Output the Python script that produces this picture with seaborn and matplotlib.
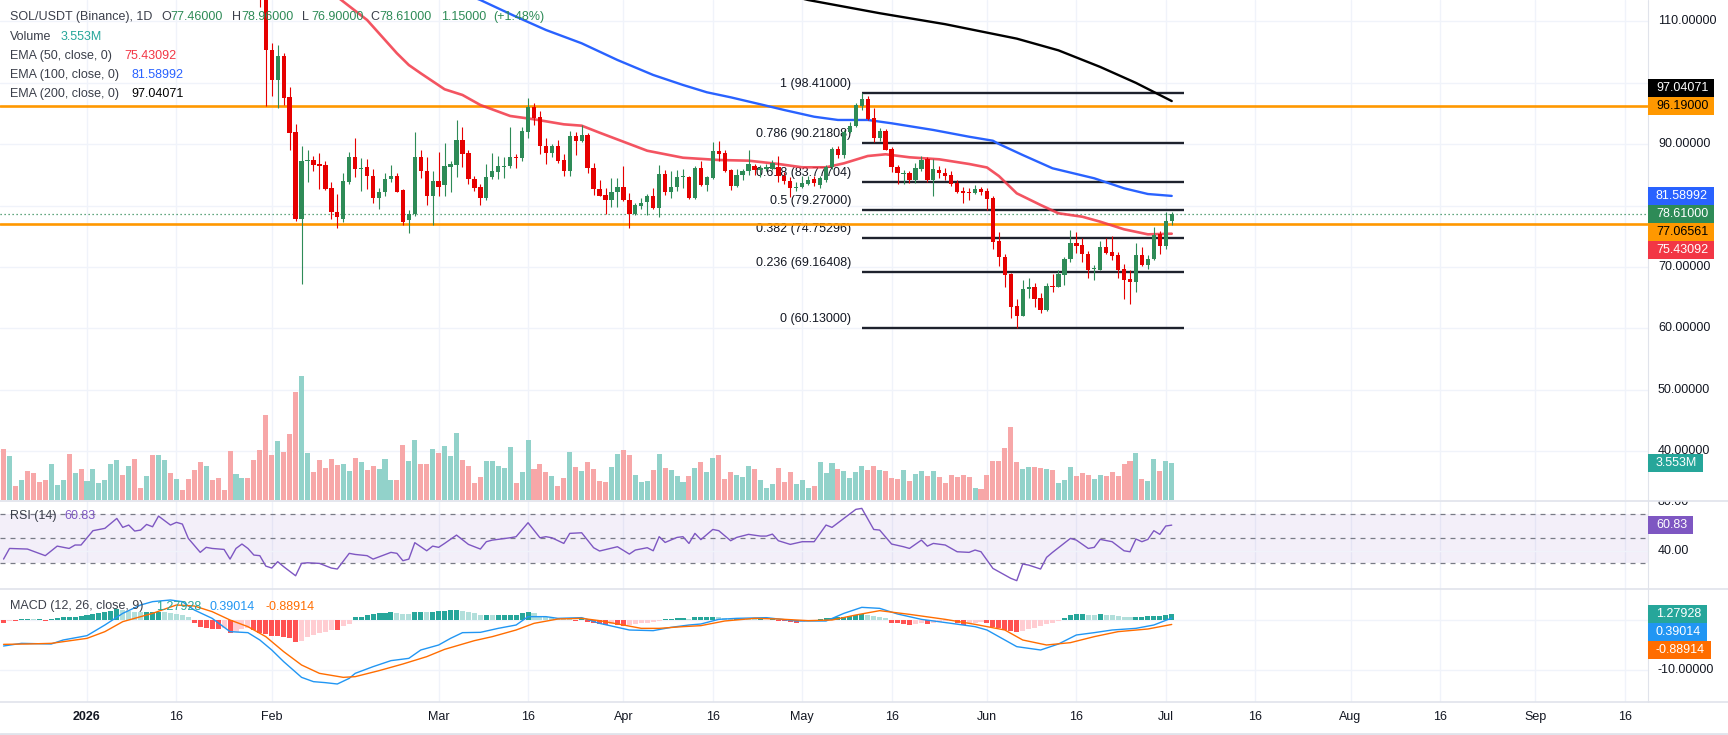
import numpy as np
import pandas as pd
import matplotlib
matplotlib.use("Agg")
import matplotlib.pyplot as plt
import matplotlib.transforms as mtransforms
from matplotlib.patches import Rectangle
from matplotlib.lines import Line2D
import seaborn as sns

# ======================= DATA =======================
BASE_DATE = "2026-01-01"

# daily candles SOL/USDT, first candle 2026-01-30
candle_first_date = "2026-01-30"
c_open = [118.5, 117.0, 105.4, 100.5, 104.4, 97.7, 92.0, 77.9, 87.2, 87.4, 86.8, 86.6, 82.8,
          79.0, 77.9, 83.9, 88.0, 85.9, 86.3, 84.9, 81.2, 82.2, 84.3, 84.9, 82.6, 77.6, 78.6,
          87.9, 85.7, 81.5, 84.1, 83.3, 86.3, 86.6, 90.7, 88.5, 84.4, 83.0, 81.2, 84.6, 85.5, 86.3,
          86.4, 87.9, 87.7, 92.0, 96.1, 94.4, 89.8, 88.6, 89.7, 87.4, 85.7, 91.3, 90.5, 91.5,
          86.2, 82.7, 81.75, 81.0, 82.2,
          83.0, 81.0, 78.6, 80.0, 80.55, 81.6, 79.7, 85.2, 82.2, 83.0, 84.6, 84.75, 81.2, 86.2,
          83.4, 84.5, 88.85, 88.5, 85.85, 83.2, 85.0, 85.7,
          86.5, 85.8, 86.0, 85.97, 86.35, 84.83, 84.02, 82.95, 83.0, 83.53, 84.29, 83.37, 84.18,
          86.24, 89.23, 88.25, 91.95, 92.98, 96.29, 97.38, 94.23, 91.08, 92.16, 89.23, 86.35, 85.2,
          85.38, 84.18, 85.97, 87.55, 84.18, 85.81, 85.27, 85.0, 83.75, 82.39, 82.15, 82.12, 82.72, 82.39,
          81.3, 74.3, 71.7, 68.87, 63.66, 62.08, 66.37, 66.75, 64.96, 63.06, 66.92, 66.81, 68.71,
          71.26, 73.92, 73.6, 72.13, 69.74, 69.58, 73.27, 72.45, 71.97, 69.69, 68.05, 67.57, 71.97,
          70.34, 71.31, 75.33, 73.43, 77.46]
c_high = [119.5, 117.6, 106.5, 106.1, 104.9, 99.4, 93.3, 89.7, 89.0, 88.1, 88.6, 87.2, 83.9,
          81.9, 85.4, 88.7, 91.0, 87.8, 87.6, 85.9, 82.9, 85.3, 86.6, 85.3, 82.7, 79.3, 92.0,
          89.0, 88.0, 85.6, 88.7, 90.2, 87.3, 93.9, 92.8, 89.0, 84.8, 83.6, 86.8, 88.5, 88.1, 87.9,
          92.8, 88.4, 92.8, 97.6, 96.7, 95.4, 91.0, 90.0, 90.7, 88.4, 92.1, 92.0, 93.2, 91.9,
          86.9, 84.2, 82.85, 84.5, 84.5,
          86.4, 82.0, 80.4, 81.2, 81.9, 82.95, 86.7, 85.85, 85.6, 85.85, 86.0, 84.9, 86.5, 87.3,
          84.9, 90.3, 90.5, 89.0, 86.0, 86.0, 86.0, 89.1,
          86.8, 86.6, 86.8, 87.4, 88.1, 85.5, 84.6, 83.9, 84.8, 84.8, 84.9, 84.9, 86.6,
          89.6, 89.7, 92.4, 93.7, 96.8, 98.41, 97.9, 95.9, 92.6, 92.5, 89.5, 86.7, 85.8,
          85.7, 86.9, 88.1, 88.0, 87.6, 86.4, 86.2, 85.6, 84.2, 83.0, 82.8, 83.3, 83.1, 82.9,
          81.5, 75.7, 72.13, 69.09, 64.74, 67.89, 68.27, 67.35, 65.72, 67.35, 68.82, 69.52, 71.7,
          76.04, 75.71, 74.73, 72.67, 70.34, 74.3, 74.73, 75.06, 72.5, 70.45, 69.52, 73.87, 73.22,
          71.97, 76.47, 75.88, 78.97, 78.96]
c_low = [112.3, 96.3, 97.9, 95.9, 96.4, 89.1, 77.5, 67.3, 83.9, 85.6, 82.7, 82.5, 77.8,
         76.3, 77.3, 83.5, 84.6, 82.4, 82.7, 80.4, 79.5, 81.6, 83.8, 82.2, 76.9, 75.5, 78.3,
         84.5, 80.1, 76.9, 81.5, 81.6, 82.3, 84.6, 86.3, 83.5, 82.4, 80.1, 81.0, 84.4, 84.3, 84.5,
         86.2, 86.2, 87.2, 91.0, 93.1, 88.4, 86.8, 87.9, 86.9, 84.9, 84.9, 88.2, 90.3, 85.3,
         81.75, 81.5, 78.7, 79.8, 79.8,
         80.8, 76.4, 78.4, 79.4, 78.4, 79.5, 78.1, 81.75, 81.2, 82.4, 82.95, 81.1, 81.1, 83.2,
         82.4, 84.3, 87.2, 85.5, 82.6, 83.1, 84.2, 85.0,
         85.0, 84.75, 85.6, 85.8, 83.9, 83.6, 81.47, 82.4, 82.8, 83.3, 83.2, 82.8, 83.9,
         85.9, 87.7, 87.7, 91.8, 92.8, 95.6, 93.9, 90.4, 90.6, 89.0, 85.5, 83.6, 83.6,
         83.7, 83.7, 85.7, 83.8, 81.5, 84.5, 84.2, 83.2, 82.0, 80.4, 81.0, 81.9, 81.7, 79.3,
         72.9, 70.1, 66.81, 61.65, 60.13, 62.0, 64.91, 63.55, 62.47, 62.9, 66.0, 66.7, 67.0,
         70.77, 72.3, 70.88, 68.27, 67.89, 69.5, 72.07, 71.15, 68.27, 64.85, 63.98, 66.0, 70.2,
         69.69, 71.2, 72.07, 72.89, 76.90]
c_close = [117.0, 105.4, 100.5, 104.4, 97.6, 91.85, 77.9, 87.2, 87.4, 86.6, 86.4, 82.7, 78.9,
           78.1, 84.0, 87.9, 85.9, 86.2, 84.8, 81.2, 82.3, 84.4, 84.9, 82.3, 77.4, 78.7, 87.9,
           85.6, 81.5, 84.1, 83.1, 86.5, 86.8, 90.7, 88.4, 84.3, 82.8, 81.2, 84.75, 85.6, 86.4, 86.5,
           88.0, 87.8, 92.1, 96.1, 94.2, 89.7, 88.6, 89.7, 87.2, 85.7, 91.3, 90.5, 91.5, 86.1,
           82.7, 81.6, 81.0, 82.3, 83.0,
           80.9, 78.6, 80.1, 80.5, 81.6, 79.7, 85.2, 82.2, 83.1, 84.6, 84.75, 81.2, 86.2, 83.3,
           84.6, 88.85, 88.4, 85.7, 83.2, 85.0, 85.7, 86.8,
           85.85, 86.1, 86.3, 87.0, 84.83, 84.02, 82.82, 83.1, 83.64, 84.18, 83.75, 84.45, 86.24,
           89.23, 88.25, 92.05, 93.03, 96.40, 97.38, 94.06, 90.97, 92.16, 89.07, 86.35, 85.27, 85.3,
           84.18, 86.08, 87.44, 84.18, 85.97, 85.27, 84.83, 83.53, 82.28, 82.01, 82.1, 82.72, 82.28, 81.09,
           74.1, 71.6, 68.76, 63.55, 62.08, 66.43, 66.75, 64.85, 63.06, 66.92, 66.81, 68.87, 71.31,
           73.92, 73.49, 72.07, 69.52, 69.8, 73.27, 72.35, 71.8, 69.58, 67.89, 67.57, 71.97, 70.34,
           71.31, 75.22, 73.43, 77.46, 78.61]

# volume (millions) and bar direction, first bar 2025-12-18
bar_first_date = "2025-12-18"
volume_m = [4.90, 4.22, 1.34, 1.92, 2.78, 2.59, 1.73, 1.92, 3.46, 1.44,
            1.92, 4.42, 2.59, 2.98, 1.82, 2.98, 1.63, 1.92, 3.46, 3.84,
            2.40, 3.26, 3.94, 1.15, 2.30, 4.32, 4.32, 3.84, 2.59, 2.02,
            0.96, 2.02, 2.88, 3.65, 3.26, 1.92, 2.11, 0.96, 4.70, 2.50,
            2.11, 2.11, 3.84, 4.80, 8.16, 4.32, 5.66, 4.61, 6.34, 10.37,
            11.90, 4.51, 2.69, 3.84, 3.07, 3.94, 3.36, 3.46, 2.78, 4.03,
            3.65, 2.88, 3.26, 2.98, 3.94, 1.92, 1.92, 5.28, 3.74, 5.76,
            3.46, 3.46, 4.90, 4.51, 5.18, 4.22, 6.43, 3.84, 3.26, 1.63,
            2.21, 3.74, 3.74, 3.26, 3.07, 5.09, 1.63, 2.69, 5.76, 2.98,
            3.46, 2.69, 2.30, 1.34, 2.11, 4.61, 3.17, 2.78, 3.65, 2.98,
            1.82, 1.73, 3.17, 4.42, 4.80, 4.32, 2.40, 1.73, 1.82, 2.88,
            4.42, 3.07, 2.88, 2.30, 1.73, 2.30, 3.07, 3.65, 2.69, 4.03,
            4.32, 2.02, 2.69, 2.40, 2.21, 3.26, 2.98, 1.92, 1.15, 1.54,
            3.07, 1.73, 2.69, 1.54, 1.92, 1.15, 1.34, 3.65, 2.59, 3.55,
            2.98, 2.78, 2.11, 2.69, 3.26, 2.88, 3.26, 2.88, 2.78, 2.11,
            2.02, 2.88, 1.82, 2.50, 2.78, 2.30, 2.78, 2.21, 1.63, 2.40,
            2.21, 2.40, 2.21, 1.15, 1.06, 2.40, 3.74, 3.74, 4.99, 7.01,
            3.65, 2.98, 3.17, 3.17, 3.07, 2.98, 2.88, 1.63, 1.92, 3.17,
            2.30, 2.59, 2.40, 2.02, 2.40, 2.30, 2.69, 2.30, 3.46, 3.74,
            4.51, 2.02, 1.82, 3.94, 2.78, 3.74, 3.553]
volume_up = [0, 1, 0, 1, 0, 0, 0, 0, 1, 1, 1, 0, 1, 0, 1, 1, 1, 1, 1, 1,
             0, 1, 0, 0, 1, 0, 1, 1, 0, 1, 0, 0, 0, 0, 1, 0, 0, 0, 0, 1,
             1, 0, 0, 0, 0, 0, 1, 0, 0, 0, 1, 1, 0, 0, 0, 0, 0, 1, 1, 0,
             1, 0, 0, 1, 1, 1, 0, 0, 1, 1, 0, 0, 1, 0, 1, 1, 1, 0, 0, 0,
             0, 1, 1, 1, 1, 1, 0, 1, 1, 0, 0, 0, 1, 0, 0, 1, 0, 1, 0, 0,
             0, 0, 1, 1, 0, 0, 1, 1, 1, 0, 1, 0, 1, 1, 1, 0, 1, 0, 1, 1,
             0, 0, 0, 1, 1, 1, 0, 1, 1, 1, 0, 0, 0, 1, 1, 1, 0, 1, 1, 1,
             0, 1, 1, 1, 1, 0, 0, 1, 0, 0, 0, 1, 0, 1, 1, 0, 1, 0, 0, 0,
             0, 0, 0, 1, 0, 0, 0, 0, 0, 0, 0, 1, 1, 0, 0, 1, 0, 1, 1, 1,
             0, 0, 0, 1, 1, 0, 0, 0, 0, 0, 1, 0, 1, 1, 0, 1, 1]

# moving averages (day offset from 2026-01-01, value)
ema50_day = [40, 47, 52, 54, 56, 60, 63, 66, 71, 75, 80, 83, 86, 90, 94, 100, 106, 111, 116, 120,
             124, 127, 131, 134, 138, 143, 148, 151, 153, 156, 160, 163, 167, 170, 174, 178, 182]
ema50_val = [115.5, 110.24, 104.82, 102.91, 101.56, 98.96, 98.03, 96.40, 94.61, 94.07, 93.25, 93.03,
             91.89, 90.42, 88.95, 87.81, 87.44, 87.33, 86.79, 86.25, 86.25, 86.90, 88.09, 88.37, 87.88,
             87.55, 86.79, 86.22, 84.83, 82.01, 80.11, 78.76, 78.20, 77.39, 76.15, 75.33, 75.43092]
ema100_day = [62, 66, 72, 77, 83, 89, 95, 100, 104, 108, 113, 117, 122, 126, 131, 135, 142, 148,
              152, 153, 157, 162, 169, 174, 178, 182]
ema100_val = [115.0, 113.5, 110.78, 108.62, 106.45, 103.73, 101.29, 99.66, 98.47, 97.65, 96.51, 95.58,
              94.49, 93.96, 93.96, 93.42, 92.33, 91.23, 90.58, 90.05, 88.25, 86.09, 84.46, 82.83,
              81.90, 81.58992]
ema200_day = [118, 121, 133, 144, 156, 163, 170, 176, 182]
ema200_val = [114.2, 113.5, 111.35, 109.56, 107.21, 105.3, 102.6, 100.0, 97.04071]

# horizontal lines and Fibonacci retracement
hline_levels = [96.19, 77.06561]
fib_ratio = ["1", "0.786", "0.618", "0.5", "0.382", "0.236", "0"]
fib_price = [98.41, 90.21808, 83.77704, 79.27, 74.75296, 69.16408, 60.13]
fib_start_date = "2026-05-11"
fib_end_date = "2026-07-04"

# RSI (14)
rsi_day = [-14, -13, -10, -7, -5, -3, -2, -1, 1, 3, 5, 6, 7, 8, 9, 10, 11, 12, 14, 15,
           16, 17, 19, 20, 21, 23, 24, 25, 26, 27, 28, 29, 30, 31, 32, 33, 35, 36, 37, 39,
           41, 42, 44, 45, 47, 48, 51, 52, 53, 54, 55, 57, 58, 59, 60, 62, 64, 66, 67, 68,
           71, 72, 74, 76, 77, 78, 80, 81, 83, 85, 86, 89, 91, 92, 94, 95, 96, 97, 99, 100,
           101, 102, 103, 105, 106, 108, 109, 111, 113, 114, 115, 116, 118, 120, 122, 124, 125, 127, 129, 130,
           132, 133, 135, 137, 138, 140, 141, 142, 144, 146, 148, 149, 150, 152, 153, 155, 156, 157, 158, 160,
           161, 162, 165, 166, 168, 169, 170, 172, 174, 175, 176, 177, 178, 179, 180, 181, 182]
rsi_val = [33.1, 41.8, 41.3, 35.9, 43.7, 41.8, 44.6, 44.6, 56.3, 58.2, 66.3, 59.0, 60.9, 56.0, 56.8, 61.4, 59.5, 68.2, 60.9, 63.1,
           61.7, 50.0, 38.6, 42.7, 41.8, 41.0, 33.1, 41.8, 45.4, 41.8, 36.4, 35.9, 27.4, 25.8, 31.0, 26.9, 19.5, 29.6, 30.1, 29.6,
           25.8, 25.0, 37.8, 36.9, 35.9, 33.1, 38.6, 37.8, 31.8, 33.1, 46.5, 39.9, 43.7, 42.7, 45.9, 52.7, 45.1, 41.3, 47.3, 48.6,
           50.5, 51.4, 62.8, 50.5, 51.4, 50.5, 45.9, 54.1, 54.6, 42.4, 39.7, 43.2, 37.2, 40.5, 42.4, 39.9, 51.4, 46.7, 50.8, 51.4,
           45.9, 54.1, 49.0, 57.3, 56.3, 48.1, 50.8, 53.3, 51.9, 51.9, 53.5, 48.1, 45.1, 47.3, 47.3, 60.9, 59.0, 66.3, 73.7, 74.5,
           57.3, 56.8, 45.4, 43.2, 41.8, 48.6, 43.7, 45.9, 44.6, 39.1, 38.6, 40.5, 39.1, 25.5, 22.8, 17.4, 15.5, 29.1, 28.2, 25.0,
           34.5, 38.6, 50.0, 48.6, 41.8, 42.7, 49.2, 47.3, 39.9, 39.1, 49.5, 47.3, 49.2, 56.3, 53.3, 60.1, 60.83]

# MACD (12, 26, 9)
macd_day = [-14, -11, -6, -4, 0, 3, 6, 9, 11, 14, 16, 18, 21, 24, 27, 29, 31, 33, 36, 38,
            40, 42, 44, 45, 48, 51, 54, 56, 59, 61, 63, 66, 69, 72, 74, 77, 79, 83, 86, 89,
            91, 95, 98, 101, 103, 106, 109, 114, 119, 124, 127, 130, 133, 136, 140, 145, 149, 151, 154, 156,
            160, 163, 166, 169, 172, 176, 179, 182]
macd_val = [-5.20, -4.67, -4.80, -4.00, -3.13, -1.00, 1.33, 3.00, 3.67, 4.00, 3.67, 2.00, 0.33, -2.33, -2.53, -4.00, -6.00, -8.33, -11.47, -12.33,
            -12.53, -12.80, -11.67, -10.67, -9.33, -8.13, -7.67, -6.00, -5.00, -3.67, -2.53, -2.47, -1.67, -1.00, 0.67, 0.67, 0.33, 0.47, -0.67, -1.47,
            -2.00, -2.13, -1.47, -1.00, -0.80, 0.13, 0.33, 0.47, -0.20, -0.20, 1.33, 2.53, 2.33, 1.20, 0.13, -0.67, -1.33, -2.00, -4.00, -5.33,
            -6.00, -4.80, -3.00, -2.53, -2.00, -1.67, -1.00, 0.39014]
signal_day = [-14, -10, -6, 0, 3, 6, 11, 15, 18, 21, 24, 27, 30, 33, 36, 39, 43, 45, 49, 53,
              57, 60, 65, 68, 72, 75, 79, 83, 86, 90, 93, 96, 100, 103, 107, 112, 116, 121, 125, 129,
              133, 138, 144, 149, 154, 157, 161, 165, 169, 173, 178, 182]
signal_val = [-4.87, -4.80, -4.67, -3.67, -2.33, -0.33, 1.33, 3.00, 2.80, 1.67, 0.00, -1.33, -3.33, -6.33, -9.00, -10.67, -11.47, -11.33, -10.13, -8.80,
              -7.33, -5.87, -4.13, -3.33, -2.00, -0.67, 0.20, 0.33, -0.13, -1.00, -1.67, -1.67, -1.33, -1.13, -0.20, 0.33, 0.20, -0.13, 0.00, 1.00,
              1.87, 1.13, 0.13, -0.87, -2.00, -4.00, -5.00, -4.53, -3.33, -2.33, -1.80, -0.88914]
macd_hist = [-0.67, -0.2, -0.2, 0.13, 0.2, 0.13, 0.13, -0.13, 0.13, 0.47,
             0.6, 0.6, 0.6, 0.73, 1.0, 1.2, 1.47, 1.67, 1.87, 2.13,
             2.0, 1.87, 1.67, 1.53, 1.53, 1.67, 1.67, 1.53, 1.33, 1.2,
             1.0, 0.67, -0.67, -1.33, -1.67, -1.87, -1.87, -1.67, -2.53, -2.33,
             -1.87, -1.67, -2.0, -2.53, -2.8, -3.2, -3.2, -3.33, -3.67, -4.33,
             -4.13, -3.47, -3.0, -2.67, -2.33, -2.0, -2.0, -1.13, -0.8, 0.53,
             0.67, 1.0, 1.2, 1.33, 1.47, 1.6, 1.33, 1.2, 1.13, 1.67,
             1.67, 1.6, 1.6, 1.73, 1.87, 1.93, 2.0, 1.87, 1.67, 1.47,
             1.07, 1.07, 1.0, 1.0, 1.0, 1.0, 1.0, 1.33, 1.6, 1.33,
             0.8, 0.53, 0.4, 0.27, 0.2, 0.13, -0.13, 0.13, -0.33, -0.53,
             -0.8, -1.0, -0.87, -1.0, -1.2, -1.0, -0.8, -0.67, -0.53, -0.33,
             -0.2, 0.13, 0.27, 0.33, 0.33, 0.27, 0.53,
             0.53, 0.67, 0.67, 0.53, 0.33, 0.27, 0.33, 0.27, 0.2, 0.13,
             0.13, -0.07, 0.13, -0.13, -0.2, -0.4, -0.53, -0.4, -0.27, -0.13,
             0.13, 0.33, 0.4, 0.53, 0.67, 0.87, 1.07, 1.2, 1.0, 0.8,
             0.67, 0.4, -0.53, -0.67, -0.87, -1.0, -0.8, -0.67, -0.87, -0.53,
             -0.4, -0.27, -0.2, -0.67, -0.93, -0.67, -0.53, -0.4, -0.67, -1.33,
             -1.67, -2.0, -2.27, -2.4, -2.13, -1.87, -1.53, -1.2, -0.87, -0.53,
             -0.27, 0.47, 0.93, 1.2, 1.2, 1.07, 1.0, 1.13, 1.0, 0.93,
             0.8, 0.67, 0.6, 0.67, 0.67, 0.73, 0.8, 0.87, 1.07, 1.27928]

# axis tick labels
price_ticks = [110, 90, 70, 60, 50, 40]
rsi_ticks = [80, 40]
macd_ticks = [-10]
date_tick_dates = ["2026-01-01", "2026-01-16", "2026-02-01", "2026-03-01", "2026-03-16", "2026-04-01",
                   "2026-04-16", "2026-05-01", "2026-05-16", "2026-06-01", "2026-06-16", "2026-07-01",
                   "2026-07-16", "2026-08-01", "2026-08-16", "2026-09-01", "2026-09-16"]
date_tick_labels = ["2026", "16", "Feb", "Mar", "16", "Apr", "16", "May", "16", "Jun", "16", "Jul",
                    "16", "Aug", "16", "Sep", "16"]

# ======================= STYLE / LAYOUT =======================
sns.set_theme(style="white")
FONT = ['Liberation Sans', 'DejaVu Sans']
plt.rcParams['font.family'] = FONT
FS = 9
TXT = '#131722'
UP, DN = '#2e8b57', '#e60000'
VOL_UP, VOL_DN = '#92d2ca', '#f7a7a8'
GRID = '#f0f3fa'
SEP = '#e0e3eb'

W, H = 1728, 735
PLOT_R = 1648           # right edge of plotting area (px)
X0_PX, PX_DAY = 87, 5.96  # px of 2026-01-01, px per day

def day(s):
    return (pd.Timestamp(s) - pd.Timestamp(BASE_DATE)).days

def yfig(px):
    return 1 - px / H

fig = plt.figure(figsize=(W / 100, H / 100), dpi=100)
fig.patch.set_facecolor('white')
ax_p = fig.add_axes([0, yfig(500), 1, 500 / H])
ax_r = fig.add_axes([0, yfig(589), 1, 88 / H], sharex=ax_p)
ax_m = fig.add_axes([0, yfig(702), 1, 113 / H], sharex=ax_p)
ax_v = ax_p.twinx()
ax_v.set_zorder(0)
ax_p.set_zorder(1)
ax_p.patch.set_alpha(0)

xl = ((0 - X0_PX) / PX_DAY, (W - X0_PX) / PX_DAY)
xr_frac = PLOT_R / W

# ---------- price panel ----------
cd = day(candle_first_date) + np.arange(len(c_open))
o, hi, lo, c = map(np.asarray, (c_open, c_high, c_low, c_close))
up = c >= o
ccol = np.where(up, UP, DN)
ax_p.vlines(cd, lo, hi, colors=ccol, lw=0.8, zorder=6)
ax_p.bar(cd, np.maximum(np.abs(c - o), 0.17), bottom=np.minimum(o, c), width=0.72,
         color=ccol, linewidth=0, zorder=7)

sns.lineplot(x=ema50_day, y=ema50_val, ax=ax_p, color='#f23645', linewidth=1.9, alpha=0.85,
             estimator=None, zorder=5)
sns.lineplot(x=ema100_day, y=ema100_val, ax=ax_p, color='#2962ff', linewidth=1.7,
             estimator=None, zorder=5)
sns.lineplot(x=ema200_day, y=ema200_val, ax=ax_p, color='#000000', linewidth=1.7,
             estimator=None, zorder=5)

for lv in hline_levels:
    ax_p.axhline(lv, xmax=xr_frac, color='#ff9800', lw=1.9, zorder=4)
ax_p.axhline(c[-1], xmax=xr_frac, color=UP, lw=0.9, ls=(0, (1, 2.2)), zorder=4)

fs, fe = day(fib_start_date), day(fib_end_date)
ax_p.hlines(fib_price, fs, fe, colors='#1e222d', lw=1.7, zorder=4)
for r, pv in zip(fib_ratio, fib_price):
    ax_p.annotate(f"{r} ({pv:.5f})", xy=(fs, pv), xytext=(-7.5, 6.5), textcoords='offset points',
                  ha='right', va='center', fontsize=FS, color=TXT, zorder=3)

ax_p.set_ylim(110 - (500 - 21.5) / 6.139, 110 + 21.5 / 6.139)

# volume on twin axis (behind candles)
vd = day(bar_first_date) + np.arange(len(volume_m))
ax_v.bar(vd, volume_m, width=0.84, color=np.where(np.asarray(volume_up) == 1, VOL_UP, VOL_DN),
         linewidth=0, zorder=3)
ax_v.set_ylim(0, 48)

# grids
tick_days = [day(s) for s in date_tick_dates]
for a in (ax_v, ax_r, ax_m):
    for t in tick_days:
        a.axvline(t, color=GRID, lw=1, zorder=0)
trp = mtransforms.blended_transform_factory(ax_v.transAxes, ax_p.transData)
for lv in range(40, 111, 10):
    ax_v.plot([0, xr_frac], [lv, lv], transform=trp, color=GRID, lw=1, zorder=0)

# ---------- RSI ----------
ax_r.axhspan(30, 70, xmax=xr_frac, color='#7e57c2', alpha=0.09, lw=0, zorder=1)
ax_r.axhline(40, xmax=xr_frac, color=GRID, lw=1, zorder=1)
for lv in (70, 50, 30):
    ax_r.axhline(lv, xmax=xr_frac, color='#787b86', lw=0.9, ls=(0, (4, 4)), zorder=2)
sns.lineplot(x=rsi_day, y=rsi_val, ax=ax_r, color='#7e57c2', linewidth=1.0, estimator=None, zorder=3)
ax_r.set_ylim(50 - (589 - 538.4) / 1.225, 50 + (538.4 - 501) / 1.225)

# ---------- MACD ----------
hv = np.asarray(macd_hist)
prev = np.concatenate([[hv[0]], hv[:-1]])
hcol = np.where(hv >= 0, np.where(hv >= prev, '#26a69a', '#b2dfdb'),
                np.where(hv > prev, '#ffcdd2', '#ff5252'))
ax_m.axhline(0, xmax=xr_frac, color=GRID, lw=1, zorder=0)
ax_m.axhline(-10, xmax=xr_frac, color=GRID, lw=1, zorder=0)
ax_m.bar(vd, hv, width=0.84, color=hcol, linewidth=0, zorder=2)
sns.lineplot(x=macd_day, y=macd_val, ax=ax_m, color='#2196f3', linewidth=1.0, estimator=None, zorder=3)
sns.lineplot(x=signal_day, y=signal_val, ax=ax_m, color='#ff6d00', linewidth=1.0, estimator=None, zorder=3)
ax_m.set_ylim(-(702 - 620) / 5.0, (620 - 589) / 5.0)

# ---------- axes cosmetics ----------
for a in (ax_p, ax_v, ax_r, ax_m):
    a.set_xlim(*xl)
    a.set_yticks([])
    a.set_ylabel('')
    a.set_xlabel('')
    for s in a.spines.values():
        s.set_visible(False)
    a.tick_params(axis='x', length=0, labelbottom=False)
ax_m.set_xticks(tick_days)
ax_m.set_xticklabels(date_tick_labels)
ax_m.tick_params(axis='x', length=0, pad=6.3, labelsize=FS, labelcolor=TXT, labelbottom=True)
for tl in ax_m.get_xticklabels():
    if tl.get_text() == "2026":
        tl.set_fontweight('bold')

# scale tick labels
XT = 1658 / W
for a, ticks, fmt in ((ax_p, price_ticks, "{:.5f}"), (ax_r, rsi_ticks, "{:.2f}"), (ax_m, macd_ticks, "{:.5f}")):
    tr = mtransforms.blended_transform_factory(a.transAxes, a.transData)
    for t in ticks:
        a.text(XT, t, fmt.format(t), transform=tr, ha='left', va='center', fontsize=FS,
               color=TXT, clip_on=True, zorder=10)

# separators and frame
for ypx in (501, 589, 702):
    fig.add_artist(Line2D([0, 1], [yfig(ypx)] * 2, color=SEP, lw=1.2, transform=fig.transFigure))
fig.add_artist(Line2D([xr_frac] * 2, [yfig(0), yfig(702)], color=SEP, lw=0.8, transform=fig.transFigure))
fig.add_artist(Line2D([0, 1], [yfig(733.5)] * 2, color=SEP, lw=2.0, transform=fig.transFigure))

# ---------- value boxes on the scale ----------
fig.canvas.draw()
renderer = fig.canvas.get_renderer()

def px_of(a, v):
    return H - a.transData.transform((0, v))[1]

def resolve(items, h=18.0):
    placed = []
    for it in items:
        y = it['ideal']
        for _ in range(20):
            hit = None
            for q in placed:
                if abs(y - q['y']) < h - 0.5:
                    hit = q
                    break
            if hit is None:
                break
            y = hit['y'] - h if it['ideal'] < hit['ideal'] else hit['y'] + h
        it['y'] = y
        placed.append(it)
    return items

def boxes(items):
    for it in resolve(items):
        t = fig.text(1656 / W, yfig(it['y']), it['text'], ha='left', va='center', fontsize=FS,
                     color=it['fg'], zorder=6)
        bb = t.get_window_extent(renderer)
        wpx = bb.x1 - 1648 + 6
        fig.add_artist(Rectangle((1648 / W, yfig(it['y'] + 9)), wpx / W, 18 / H,
                                 transform=fig.transFigure, facecolor=it['bg'], edgecolor='none',
                                 zorder=5))

boxes([
    dict(ideal=px_of(ax_p, c[-1]), text=f"{c[-1]:.5f}", bg='#2e8b57', fg='white'),
    dict(ideal=px_of(ax_p, hline_levels[0]), text=f"{hline_levels[0]:.5f}", bg='#ff9800', fg='black'),
    dict(ideal=px_of(ax_p, hline_levels[1]), text=f"{hline_levels[1]:.5f}", bg='#ff9800', fg='black'),
    dict(ideal=px_of(ax_p, ema50_val[-1]), text=f"{ema50_val[-1]:.5f}", bg='#f23645', fg='white'),
    dict(ideal=px_of(ax_p, ema100_val[-1]), text=f"{ema100_val[-1]:.5f}", bg='#2962ff', fg='white'),
    dict(ideal=px_of(ax_p, ema200_val[-1]), text=f"{ema200_val[-1]:.5f}", bg='#000000', fg='white'),
])
boxes([dict(ideal=px_of(ax_v, volume_m[-1]), text=f"{volume_m[-1]:.3f}M", bg='#26a69a', fg='white')])
boxes([dict(ideal=px_of(ax_r, rsi_val[-1]), text=f"{rsi_val[-1]:.2f}", bg='#7e57c2', fg='white')])
boxes([
    dict(ideal=px_of(ax_m, macd_hist[-1]), text=f"{macd_hist[-1]:.5f}", bg='#26a69a', fg='white'),
    dict(ideal=px_of(ax_m, macd_val[-1]), text=f"{macd_val[-1]:.5f}", bg='#2196f3', fg='white'),
    dict(ideal=px_of(ax_m, signal_val[-1]), text=f"{signal_val[-1]:.5f}", bg='#ff6d00', fg='white'),
])

# ---------- legends (header) ----------
LG = '#3b3f4a'
def hdr(x, y, s, col=LG):
    fig.text(x / W, yfig(y), s, ha='left', va='center', fontsize=FS, color=col, zorder=8)

chg = c[-1] - c[-2]
hdr(10, 16.7, "SOL/USDT (Binance), 1D")
for x, lab, val in ((161, "O", o[-1]), (232, "H", hi[-1]), (302, "L", lo[-1]), (370, "C", c[-1])):
    hdr(x, 16.7, lab)
    hdr(x + 9.5, 16.7, f"{val:.5f}", UP)
hdr(441, 16.7, f"{chg:.5f}", UP)
hdr(493, 16.7, f"({chg / c[-2] * 100:+.2f}%)", UP)
hdr(10, 36.7, "Volume")
hdr(61, 36.7, f"{volume_m[-1]:.3f}M", '#26a69a')
hdr(10, 56, "EMA (50, close, 0)")
hdr(124, 56, f"{ema50_val[-1]:.5f}", '#f23645')
hdr(10, 75, "EMA (100, close, 0)")
hdr(131, 75, f"{ema100_val[-1]:.5f}", '#2962ff')
hdr(10, 94.3, "EMA (200, close, 0)")
hdr(131, 94.3, f"{ema200_val[-1]:.5f}", '#000000')
hdr(10, 516, "RSI (14)")
hdr(64, 516, f"{rsi_val[-1]:.2f}", '#7e57c2')
hdr(10, 606.5, "MACD (12, 26, close, 9)")
hdr(156, 606.5, f"{macd_hist[-1]:.5f}", '#26a69a')
hdr(210, 606.5, f"{macd_val[-1]:.5f}", '#2196f3')
hdr(265, 606.5, f"{signal_val[-1]:.5f}", '#ff6d00')

fig.savefig("out.png", dpi=100, facecolor='white')
